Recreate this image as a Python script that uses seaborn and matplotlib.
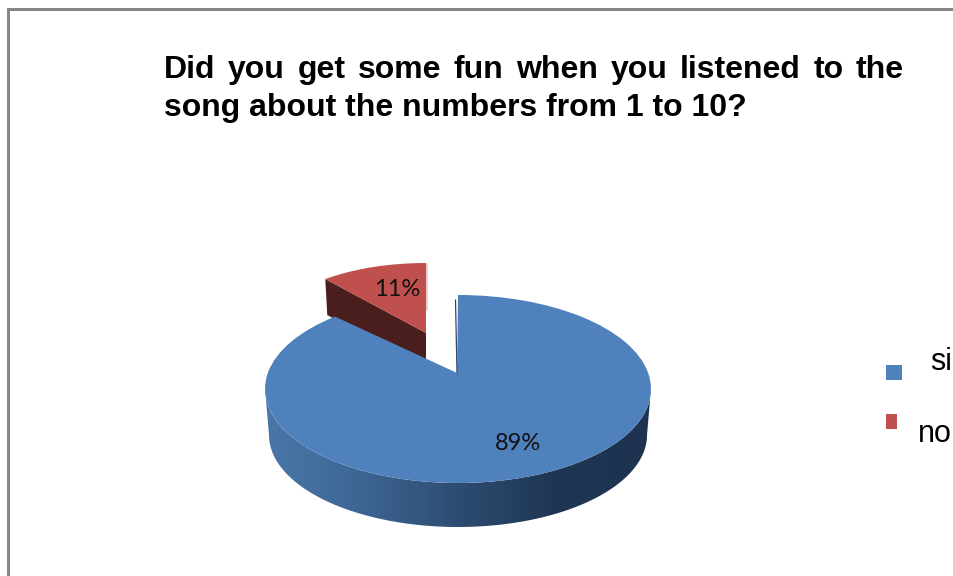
import numpy as np
import matplotlib
matplotlib.use("Agg")
import matplotlib.pyplot as plt
from matplotlib.patches import Polygon, Rectangle
from matplotlib.transforms import Affine2D
import seaborn as sns

# Data
labels = ["si", "no"]
values = [89, 11]
title_lines = ["Did you get some fun when you listened to the",
               "song about the numbers from 1 to 10?"]

BLUE = "#4f81bd"
RED = "#c0504d"
GREY = "#868686"

sns.set_theme(style="white")
plt.rcParams["font.family"] = ["Liberation Sans", "DejaVu Sans"]

fig = plt.figure(figsize=(9.54, 5.76), dpi=100, facecolor="white")
ax = fig.add_axes([0, 0, 1, 1])

wedges, _, pct_texts = ax.pie(values, startangle=90, counterclock=False,
                              colors=[BLUE, RED], autopct="%d%%",
                              wedgeprops={"edgecolor": "none", "linewidth": 0},
                              textprops={"family": "Lato", "fontsize": 17, "color": "#111111"})

# the axes runs in image pixels, y going down
ax.set_aspect("auto")
ax.set_xlim(0, 954)
ax.set_ylim(576, 0)
ax.axis("off")

# main slice: tilted ellipse, apex pulled up for the perspective
cx, cy, rx, ry = 458, 389, 193, 94
main = wedges[0]
verts = main.get_path().vertices
verts[np.hypot(verts[:, 0], verts[:, 1]) < 1e-9] = (-0.005, 16 / ry)
main.set_transform(Affine2D().scale(rx, -ry).translate(cx, cy) + ax.transData)
main.set_zorder(4)

# exploded slice, further away so it is smaller
red_cx, red_cy, red_rx, red_ry = 426, 333, 158, 70
small = wedges[1]
small.set_transform(Affine2D().scale(red_rx, -red_ry).translate(red_cx, red_cy) + ax.transData)
small.set_zorder(3)

# dark cut face of the exploded slice
angle = np.deg2rad(90 + 360 * values[1] / sum(values))
left = (red_cx + red_rx * np.cos(angle), red_cy - red_ry * np.sin(angle))
ax.add_patch(Polygon([left, (red_cx, red_cy), (red_cx, red_cy + 36), (left[0] + 2, left[1] + 36)],
                     closed=True, facecolor="#4a1e1c", edgecolor="none", zorder=2))
ax.plot([red_cx + 1.5, red_cx + 1.5], [264, 310], color="#e8c4c2", lw=1.2, zorder=3)

# thin inner face on the right of the gap
ax.plot([455.5, 457], [300, 373], color="#2c4a70", lw=0.9, zorder=5)

# rim of the pie with a left to right shade
t = np.linspace(0, np.pi, 200)
top_edge = np.column_stack([cx + rx * np.cos(t), cy + ry * np.sin(t)])
low_edge = np.column_stack([cx + 189 * np.cos(t[::-1]), 435 + 92 * np.sin(t[::-1])])
rim = Polygon(np.vstack([top_edge, low_edge]), closed=True, facecolor="none", edgecolor="none")
ax.add_patch(rim)
shade = sns.blend_palette(["#4a77aa", "#3d6693", "#2d4c72", "#1f3653", "#1d3350"], as_cmap=True)
img = ax.imshow(np.linspace(0, 1, 256).reshape(1, -1), cmap=shade, aspect="auto",
                extent=(262, 654, 530, 380), zorder=1)
img.set_clip_path(rim)
ax.set_aspect("auto")
ax.set_xlim(0, 954)
ax.set_ylim(576, 0)

# percent labels
for txt, pos in zip(pct_texts, [(518, 444), (397, 289)]):
    txt.set_transform(ax.transData)
    txt.set_position(pos)
    txt.set_zorder(6)

# title, first line justified between the two margins
def draw_justified(line, x0, x1, y):
    words = line.split(" ")
    items = [ax.text(x0, y, w, fontsize=23, fontweight="bold", color="black", va="baseline") for w in words]
    fig.canvas.draw()
    inv = ax.transData.inverted()
    sizes = []
    for it in items:
        bb = it.get_window_extent().transformed(inv)
        sizes.append(abs(bb.x1 - bb.x0))
    gap = (x1 - x0 - sum(sizes)) / (len(words) - 1)
    x = x0
    for it, w in zip(items, sizes):
        it.set_x(x)
        x += w + gap

draw_justified(title_lines[0], 164, 904, 78)
ax.text(164, 116, title_lines[1], fontsize=23, fontweight="bold", color="black", va="baseline")

# legend, markers are not the same size in the picture
ax.add_patch(Rectangle((886, 365), 16, 15, facecolor=BLUE, edgecolor="none"))
ax.add_patch(Rectangle((886, 414), 11, 15, facecolor=RED, edgecolor="none"))
ax.text(930, 370, labels[0], fontsize=22, color="black", va="baseline")
ax.text(918, 442, labels[1], fontsize=22, color="black", va="baseline")

# frame from the slide, only left and top show
ax.add_patch(Rectangle((7, 8), 3, 568, facecolor=GREY, edgecolor="none", clip_on=False))
ax.add_patch(Rectangle((7, 8), 947, 3, facecolor=GREY, edgecolor="none", clip_on=False))

fig.savefig("out.png", dpi=100)
